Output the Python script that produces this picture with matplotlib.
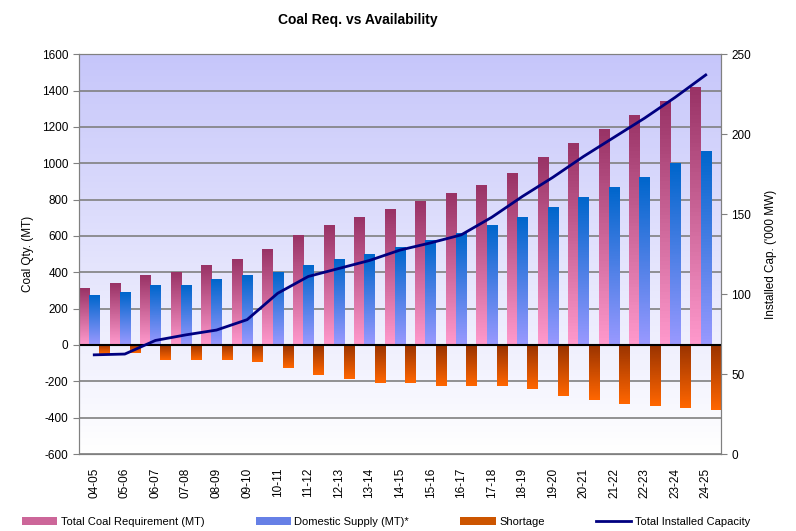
import numpy as np
import matplotlib
matplotlib.use("Agg")
import matplotlib.pyplot as plt
from matplotlib.colors import LinearSegmentedColormap
from matplotlib.patches import Patch
from matplotlib.lines import Line2D

plt.rcParams['font.family'] = ['Liberation Sans', 'DejaVu Sans']
plt.rcParams['axes.unicode_minus'] = False

years = ['04-05', '05-06', '06-07', '07-08', '08-09', '09-10', '10-11', '11-12',
         '12-13', '13-14', '14-15', '15-16', '16-17', '17-18', '18-19', '19-20',
         '20-21', '21-22', '22-23', '23-24', '24-25']
requirement = [313, 336, 380, 400, 436, 470, 525, 600, 658, 700, 748, 792,
               836, 876, 942, 1030, 1107, 1184, 1260, 1340, 1415]
domestic = [270, 290, 325, 325, 360, 380, 400, 437, 470, 500, 535, 574,
            612, 656, 700, 755, 810, 865, 920, 999, 1063]
shortage = [-50, -45, -85, -85, -85, -95, -125, -165, -190, -210, -210, -225,
            -225, -225, -245, -280, -305, -325, -338, -348, -360]
installed = [62, 62.5, 71, 74.5, 77.5, 84, 100.5, 111, 116, 121, 127.5, 132,
             137, 148, 161, 173, 186, 198, 210, 223, 237]

fig = plt.figure(figsize=(7.96, 5.31), dpi=100)
ax = fig.add_axes([0.0992, 0.145, 0.8066, 0.753])

x = np.arange(len(years))
w = 1 / 3


def grad_bars(ax, xs, vals, top, bottom):
    cmap = LinearSegmentedColormap.from_list('g', [top, bottom])
    grad = np.linspace(0, 1, 64).reshape(-1, 1)
    bars = ax.bar(xs, vals, width=w, color='none', zorder=2)
    for b in bars:
        x0, x1 = b.get_x(), b.get_x() + b.get_width()
        y0, y1 = sorted([b.get_y(), b.get_y() + b.get_height()])
        ax.imshow(grad, cmap=cmap, extent=(x0, x1, y0, y1), aspect='auto',
                  origin='upper', zorder=2)
    return bars


grad_bars(ax, x - w, requirement, '#993366', '#ff99cc')
grad_bars(ax, x, domestic, '#0066cc', '#9999ff')
grad_bars(ax, x + w, shortage, '#993300', '#ff6600')

# plot area background
bg = LinearSegmentedColormap.from_list('bg', ['#c6c6fa', '#ffffff'])
ax.imshow(np.linspace(0, 1, 128).reshape(-1, 1), cmap=bg, extent=(0, 1, 0, 1),
          transform=ax.transAxes, aspect='auto', zorder=0)

ax.set_xlim(-0.5, len(years) - 0.5)
ax.set_ylim(-600, 1600)
ax.set_yticks(np.arange(-600, 1601, 200))
ax.set_axisbelow(True)
ax.yaxis.grid(True, color='#808080', lw=1.2)
ax.axhline(0, color='black', lw=1.5, zorder=3)
ax.set_xticks(x)
ax.set_xticklabels(years, rotation=90, fontsize=8.5)
ax.tick_params(axis='x', length=0, pad=10)
ax.tick_params(axis='y', labelsize=8.5, length=4, color='#808080')
ax.set_ylabel('Coal Qty. (MT)', fontsize=8.5, labelpad=6)
for s in ax.spines.values():
    s.set_color('#808080')

ax2 = ax.twinx()
ax2.plot(x, installed, color='#000080', lw=2, zorder=5)
ax2.set_ylim(0, 250)
ax2.set_yticks(np.arange(0, 251, 50))
ax2.tick_params(axis='y', labelsize=8.5, length=4, color='#808080')
ax2.set_ylabel("Installed Cap. ('000 MW)", fontsize=8.5, labelpad=10)
for s in ax2.spines.values():
    s.set_color('#808080')

fig.text(0.449, 0.962, 'Coal Req. vs Availability', ha='center', va='center',
         fontsize=10, fontweight='bold')

handles = [Patch(facecolor='#cc6699'), Patch(facecolor='#6680e6'),
           Patch(facecolor='#cc5500'), Line2D([], [], color='#000080', lw=2)]
labels = ['Total Coal Requirement (MT)', 'Domestic Supply (MT)*', 'Shortage',
          'Total Installed Capacity']
fig.legend(handles, labels, loc='center left', bbox_to_anchor=(0.015, 0.017),
           ncol=4, frameon=False, fontsize=8, handlelength=3.2,
           columnspacing=4.6, handletextpad=0.3)

fig.savefig('out.png', dpi=100)
